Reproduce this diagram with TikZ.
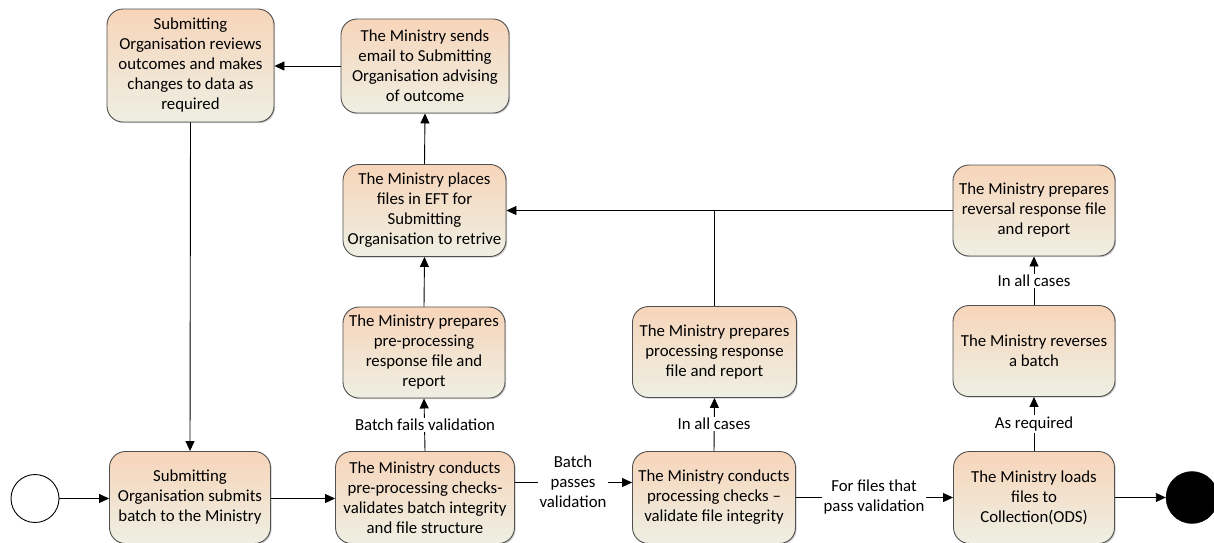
\documentclass[tikz,border=0pt]{standalone}
\usepackage{fontspec}
\setmainfont{Carlito}
\usetikzlibrary{arrows.meta,shadows}
\definecolor{boxtop}{RGB}{247,213,186}
\definecolor{boxbot}{RGB}{238,239,227}
\definecolor{boxline}{RGB}{80,80,80}
\tikzset{
  task/.style={draw=boxline, line width=0.9pt, rounded corners=16pt,
    top color=boxtop, bottom color=boxbot, align=center,
    font=\fontsize{16.8}{20}\selectfont, inner sep=1pt,
    drop shadow={shadow xshift=1.2pt, shadow yshift=-1.2pt, opacity=0.35, fill=black!60}},
  flow/.style={draw=black, line width=0.9pt, -{Triangle[length=10pt,width=9pt]}},
  plain/.style={draw=black, line width=0.9pt},
  lbl/.style={fill=white, align=center, font=\fontsize{16.8}{20}\selectfont, inner sep=1.5pt}
}
\begin{document}
\begin{tikzpicture}[x=1pt,y=-1pt]
\useasboundingbox (0,0) rectangle (1214,542);
% tasks
\node[task, minimum width=167pt, minimum height=113pt] (rev) at (190.5,65.5)
  {Submitting\\Organisation reviews\\outcomes and makes\\changes to data as\\required};
\node[task, minimum width=168pt, minimum height=94pt] (email) at (425,66)
  {The Ministry sends\\email to Submitting\\Organisation advising\\of outcome};
\node[task, minimum width=163pt, minimum height=92pt] (eft) at (424.5,210.5)
  {The Ministry places\\files in EFT for\\Submitting\\Organisation to retrive};
\node[task, minimum width=162pt, minimum height=91pt] (preresp) at (424,352.5)
  {The Ministry prepares\\pre-processing\\response file and\\report};
\node[task, minimum width=164pt, minimum height=91pt] (procresp) at (714.5,352)
  {The Ministry prepares\\processing response\\file and report};
\node[task, minimum width=162pt, minimum height=91pt] (revresp) at (1034,210.5)
  {The Ministry prepares\\reversal response file\\and report};
\node[task, minimum width=162pt, minimum height=91pt] (reverse) at (1034,351)
  {The Ministry reverses\\a batch};
\node[task, minimum width=161pt, minimum height=92pt] (submit) at (190,497.5)
  {Submitting\\Organisation submits\\batch to the Ministry};
\node[task, minimum width=179pt, minimum height=92pt] (pre) at (425,497.5)
  {The Ministry conducts\\pre-processing checks-\\validates batch integrity\\and file structure};
\node[task, minimum width=163pt, minimum height=92pt] (proc) at (714,497.5)
  {The Ministry conducts\\processing checks --\\validate file integrity};
\node[task, minimum width=161pt, minimum height=92pt] (load) at (1034,497.5)
  {The Ministry loads\\files to\\Collection(ODS)};
% events
\node[circle, draw=black, line width=0.9pt, fill=white, minimum size=48pt, inner sep=0pt] (start) at (35,498.5) {};
\node[circle, draw=black, fill=black, minimum size=52pt, inner sep=0pt] (end) at (1192,497.5) {};
% connectors
\draw[flow] (start.east) -- (start.east -| submit.west);
\draw[flow] (submit.east |- start.east) -- (pre.west |- start.east);
\coordinate (pp) at ([yshift=15pt]pre.east);
\draw[flow] (pp) -- (pp -| proc.west);
\node[lbl] (lpass) at (573,482) {Batch\\passes\\validation};
\draw[flow] (proc.east) -- (load.west);
\node[lbl] (lfiles) at (874,497.5) {For files that\\pass validation};
\draw[flow] (load.east) -- (end.west);
\draw[flow] (pre.north) -- (preresp.south);
\node[lbl] (lfail) at (425,425) {Batch fails validation};
\draw[flow] (preresp.north) -- (eft.south);
\draw[flow] (eft.north) -- (email.south);
\draw[flow] (email.west) -- (email.west -| rev.east);
\draw[flow] (rev.south) -- (submit.north);
\draw[flow] (proc.north) -- (procresp.south);
\node[lbl] (lall1) at (714,424) {In all cases};
\coordinate (join) at (procresp.north |- revresp.west);
\draw[plain] (procresp.north) -- (join);
\draw[flow] (revresp.west) -- (revresp.west -| eft.east);
\draw[flow] (load.north) -- (reverse.south);
\node[lbl] (lreq) at (1034,424) {As required};
\draw[flow] (reverse.north) -- (revresp.south);
\node[lbl] (lall2) at (1034,281) {In all cases};
\end{tikzpicture}
\end{document}
